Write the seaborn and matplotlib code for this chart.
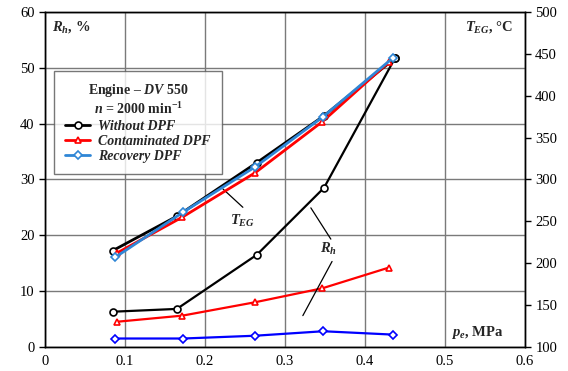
import pandas as pd
import seaborn as sns
import matplotlib.pyplot as plt
from matplotlib.lines import Line2D

# ---- data ----
pe_without = [0.085, 0.165, 0.265, 0.349, 0.438]
pe_contam = [0.090, 0.172, 0.263, 0.347, 0.430]
pe_recov = [0.088, 0.173, 0.263, 0.348, 0.435]

rh_without = [6.3, 6.8, 16.5, 28.5, 51.8]
rh_contam = [4.5, 5.6, 8.0, 10.5, 14.2]
rh_recov = [1.5, 1.5, 2.0, 2.8, 2.2]

teg_without = [215, 256, 320, 376, 445]
teg_contam = [212, 255, 308, 369, 440]
teg_recov = [207, 261, 315, 375, 445]

series_names = ["Without DPF", "Contaminated DPF", "Recovery DPF"]
teg_colors = ["black", "#ff0000", "#2f86d6"]
rh_colors = ["black", "#ff0000", "#0000ff"]
markers = ["o", "^", "D"]
msizes = [5, 5, 4]

sns.set_style("white")
plt.rcParams["font.family"] = ["Liberation Serif", "DejaVu Serif"]
plt.rcParams["mathtext.fontset"] = "custom"
plt.rcParams["mathtext.rm"] = "Liberation Serif:bold"
plt.rcParams["mathtext.it"] = "Liberation Serif:italic:bold"
plt.rcParams["mathtext.bf"] = "Liberation Serif:bold"

fig = plt.figure(figsize=(5.68, 3.71), dpi=100)
ax = fig.add_axes([0.079, 0.065, 0.845, 0.903])
ax2 = ax.twinx()

pe_all = [pe_without, pe_contam, pe_recov]
rh_all = [rh_without, rh_contam, rh_recov]
teg_all = [teg_without, teg_contam, teg_recov]

for i in range(3):
    df = pd.DataFrame({"pe": pe_all[i], "rh": rh_all[i], "teg": teg_all[i]})
    sns.lineplot(data=df, x="pe", y="rh", ax=ax, color=rh_colors[i],
                 marker=markers[i], markersize=msizes[i], markerfacecolor="white",
                 markeredgecolor=rh_colors[i], markeredgewidth=1.2,
                 linewidth=1.6, sort=False)
    sns.lineplot(data=df, x="pe", y="teg", ax=ax2, color=teg_colors[i],
                 marker=markers[i], markersize=msizes[i], markerfacecolor="white",
                 markeredgecolor=teg_colors[i], markeredgewidth=1.2,
                 linewidth=2.0, sort=False)

ax.set_xlim(0, 0.6)
ax.set_ylim(0, 60)
ax2.set_ylim(100, 500)
ax.set_xticks([0, 0.1, 0.2, 0.3, 0.4, 0.5, 0.6])
ax.set_xticklabels(["0", "0.1", "0.2", "0.3", "0.4", "0.5", "0.6"])
ax.set_yticks(range(0, 61, 10))
ax2.set_yticks(range(100, 501, 50))
ax.set_xlabel("")
ax.set_ylabel("")
ax2.set_ylabel("")
ax.grid(True, color="#7a7a7a", linewidth=1.0)
for a in (ax, ax2):
    a.tick_params(direction="out", length=4, width=1, labelsize=10.5, colors="black")
    for s in a.spines.values():
        s.set_color("black")
        s.set_linewidth(1.0)
ax.tick_params(axis="x", pad=2)

# axis captions inside the plot
ax.text(0.009, 57.3, r"$R_h$, %", fontsize=10.5, fontweight="bold", va="center", ha="left")
ax.text(0.585, 57.3, r"$T_{EG}$, °C", fontsize=10.5, fontweight="bold", va="center", ha="right")
ax.text(0.573, 2.5, r"$p_e$, MPa", fontsize=10.5, fontweight="bold", va="center", ha="right")

# curve labels with leader lines
ax.text(0.2475, 22.6, r"$T_{EG}$", fontsize=10.5, ha="center", va="center")
ax.plot([0.2225, 0.2475], [28.3, 25.0], color="black", linewidth=0.9)
ax.text(0.354, 17.6, r"$R_h$", fontsize=10.5, ha="center", va="center")
ax.plot([0.3325, 0.3575], [24.9, 19.3], color="black", linewidth=0.9)
ax.plot([0.359, 0.3225], [15.3, 5.6], color="black", linewidth=0.9)

handles = [Line2D([], [], color=teg_colors[i], marker=markers[i], markersize=msizes[i],
                  markerfacecolor="white", markeredgewidth=1.2, linewidth=2.0)
           for i in range(3)]
leg = ax2.legend(handles, series_names, loc="upper left", bbox_to_anchor=(0.019, 0.824),
                 title="Engine – $DV\\ 550$\n$n$ = 2000 min$^{-1}$",
                 prop={"weight": "bold", "style": "italic", "size": 10},
                 title_fontproperties={"weight": "bold", "size": 10},
                 frameon=True, fancybox=False, edgecolor="#555555",
                 handlelength=1.8, borderpad=0.8, labelspacing=0.15,
                 handletextpad=0.6, borderaxespad=0)
leg.get_frame().set_linewidth(1.0)
leg.get_title().set_multialignment("center")

fig.savefig("out.png", dpi=100)
